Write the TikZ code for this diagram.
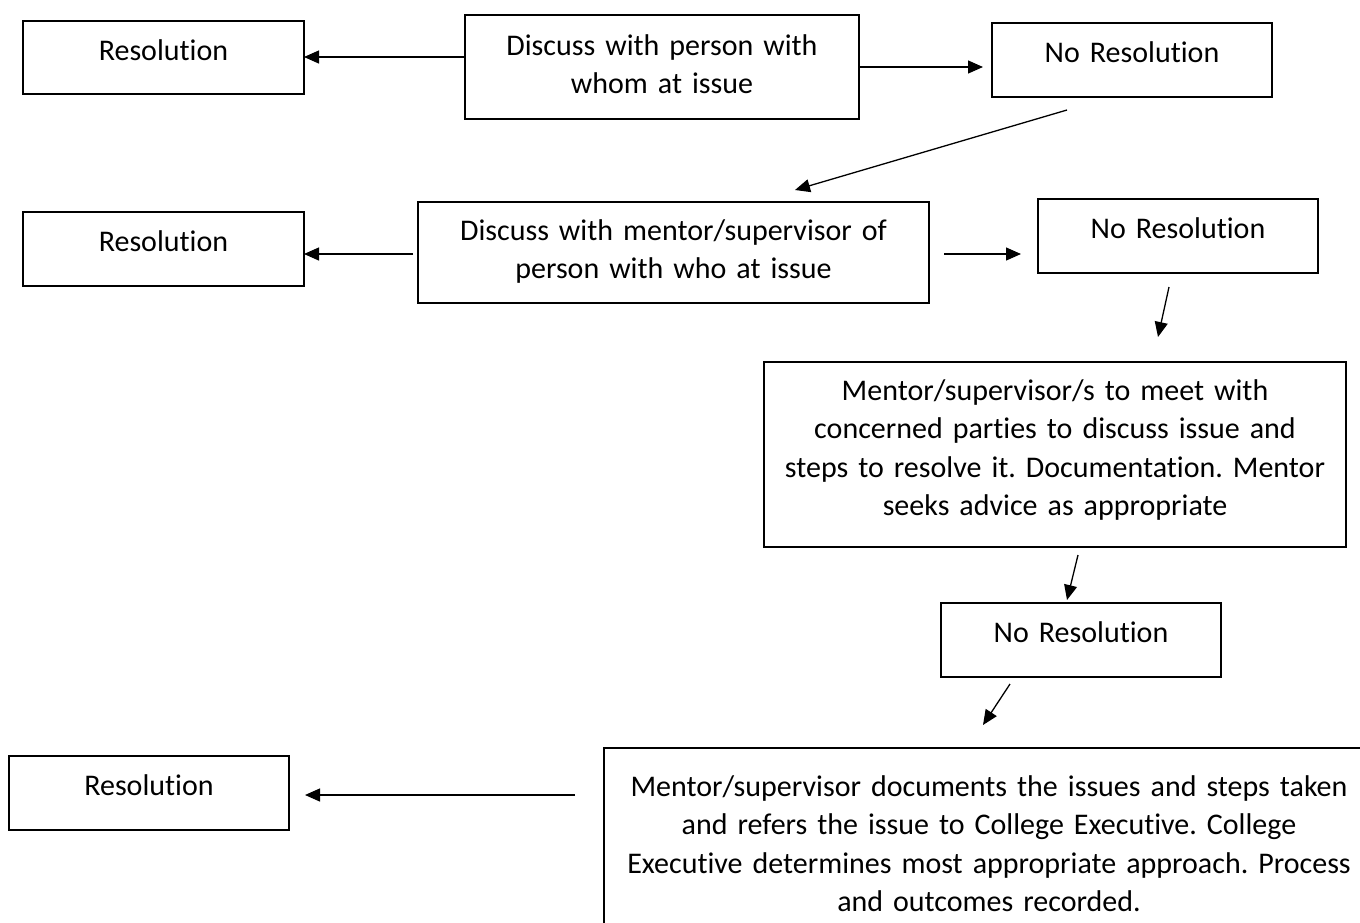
\documentclass[tikz,border=0pt]{standalone}
\usepackage{fontspec}
\setmainfont{Carlito}[Ligatures=NoCommon]
\frenchspacing
\usetikzlibrary{arrows.meta}
\tikzset{>={Triangle[length=15pt,width=13pt]}}
\tikzset{box/.style={draw,line width=1.3pt,anchor=north west,inner sep=0pt,outer sep=0pt,
    align=center,font=\fontsize{30}{38.5}\selectfont},
  arr/.style={->,line width=1.3pt}}

\begin{document}
\begin{tikzpicture}[x=1pt,y=-1pt]
    \useasboundingbox (0,0) rectangle (1360,922);
    \clip (0,0) rectangle (1360,922);
    \node[box,text width=281pt,text height=39pt,text depth=34pt] (res1) at (23,21) {Resolution};
    \node[box,text width=394pt,text height=40pt,text depth=64pt] (talk1) at (465,15)
    {Discuss with person with\\whom at issue};
    \node[box,text width=280pt,text height=39pt,text depth=35pt] (nores1) at (992,23) {No Resolution};
    \node[box,text width=281pt,text height=39pt,text depth=35pt] (res2) at (23,212) {Resolution};
    \node[box,text width=511pt,text height=38pt,text depth=63pt] (talk2) at (418,202)
    {Discuss with mentor/supervisor of\\person with who at issue};
    \node[box,text width=280pt,text height=39pt,text depth=35pt] (nores2) at (1038,199) {No Resolution};
    \node[box,text width=582pt,text height=38pt,text depth=147pt] (meet) at (764,362)
    {Mentor/supervisor/s to meet with\\concerned parties to discuss issue and\\
    steps to resolve it. Documentation. Mentor\\seeks advice as appropriate};
    \node[box,text width=280pt,text height=39pt,text depth=35pt] (nores3) at (941,603) {No Resolution};
    \node[box,text width=280pt,text height=39pt,text depth=35pt] (res3) at (9,756) {Resolution};
    \node[box,text width=770pt,text height=48pt,text depth=200pt] (refer) at (604,748)
    {Mentor/supervisor documents the issues and steps taken\\and refers the issue to College Executive. College\\
    Executive determines most appropriate approach. Process\\and outcomes recorded.};
    \coordinate (s1) at (465,57);
    \coordinate (e2) at (983,67);
    \coordinate (s3) at (1067,110);
    \coordinate (e3) at (795,190);
    \coordinate (s4) at (413,254);
    \coordinate (s5) at (944,254);
    \coordinate (e5) at (1021,254);
    \coordinate (s6) at (1169,287);
    \coordinate (e6) at (1158,337);
    \coordinate (s7) at (1078,555);
    \coordinate (e7) at (1067,600);
    \coordinate (s8) at (1010,684);
    \coordinate (e8) at (983,725);
    \coordinate (s9) at (575,795);
    \coordinate (e9) at (305,795);
    \draw[arr] (s1) -- (res1.east |- s1);
    \draw[arr] (talk1.east) -- (e2);
    \draw[arr] (s3) -- (e3);
    \draw[arr] (s4) -- (res2.east |- s4);
    \draw[arr] (s5) -- (e5);
    \draw[arr] (s6) -- (e6);
    \draw[arr] (s7) -- (e7);
    \draw[arr] (s8) -- (e8);
    \draw[arr] (s9) -- (e9);
\end{tikzpicture}
\end{document}
